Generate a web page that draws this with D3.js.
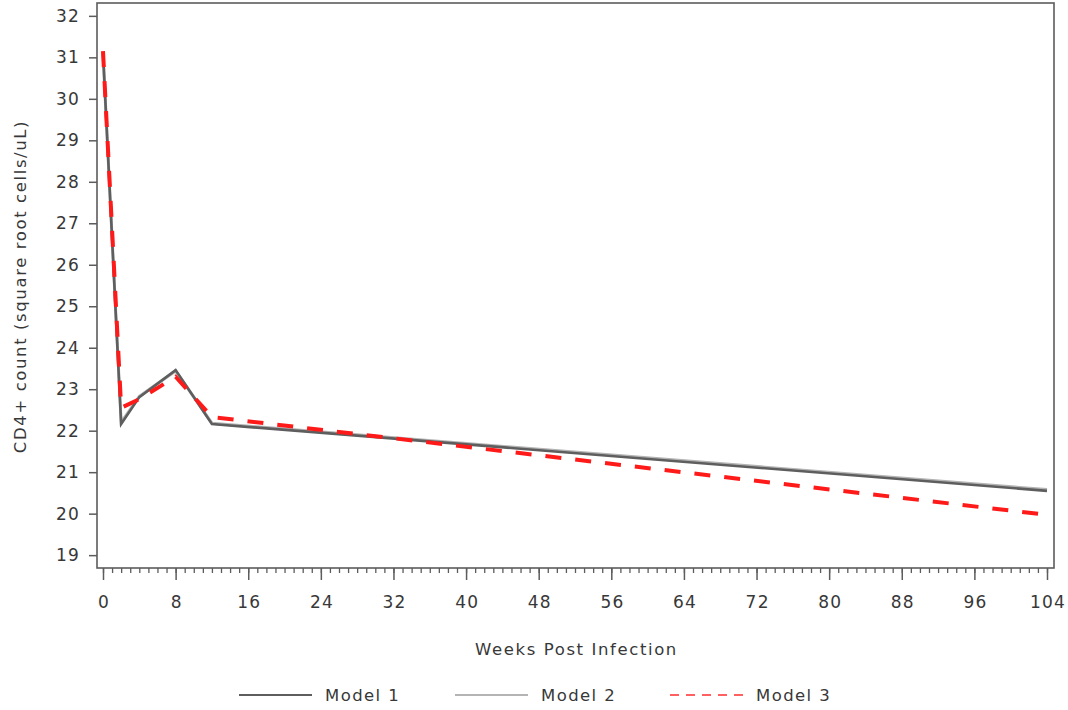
<!DOCTYPE html>
<html>
<head>
<meta charset="utf-8">
<script src="https://cdn.jsdelivr.net/npm/d3@7"></script>
<style>
  html, body { margin: 0; padding: 0; background: #fff; }
  svg text { font-family: "DejaVu Sans", sans-serif; fill: #383838; }
</style>
</head>
<body>
<svg id="chart" width="1068" height="710"></svg>
<script>
// Weeks at which the fitted curves change slope
const weeks = [0, 2, 4, 8, 12, 104];
// Fitted CD4+ (square root cells/uL) for each model
const model1 = [31.12, 22.16, 22.81, 23.46, 22.16, 20.55];
const model2 = [31.10, 22.20, 22.83, 23.44, 22.18, 20.58];
const model3 = [31.15, 22.55, 22.76, 23.30, 22.33, 19.97];
const seriesNames = ["Model 1", "Model 2", "Model 3"];
const yTicks = d3.range(19, 33);
const xMajorTicks = d3.range(0, 105, 8);
const xMinorTicks = d3.range(0, 105, 1);

const svg = d3.select("#chart");

const frame = { left: 97, right: 1054, top: 3, bottom: 568 };
const x = d3.scaleLinear().domain([0, 104]).range([103, 1047]);
const y = d3.scaleLinear().domain([18.69, 32.31]).range([frame.bottom, frame.top]);

// Plot frame
svg.append("rect")
  .attr("x", frame.left).attr("y", frame.top)
  .attr("width", frame.right - frame.left)
  .attr("height", frame.bottom - frame.top)
  .attr("fill", "none").attr("stroke", "#5c5c5c").attr("stroke-width", 1.6);

// Y axis
const yAxis = d3.axisLeft(y).tickValues(yTicks).tickSize(8).tickPadding(9).tickFormat(d3.format("d"));
const gy = svg.append("g").attr("transform", `translate(${frame.left},0)`).call(yAxis);
gy.select(".domain").remove();
gy.selectAll(".tick line").attr("stroke", "#5c5c5c").attr("stroke-width", 1.5);
gy.selectAll(".tick text").attr("font-size", 17).attr("fill", "#383838")
  .attr("font-family", "DejaVu Sans, sans-serif").attr("letter-spacing", 1.2);

// X axis: minor ticks every week, labelled major ticks every 8 weeks
const gxMinor = svg.append("g").attr("transform", `translate(0,${frame.bottom})`)
  .call(d3.axisBottom(x).tickValues(xMinorTicks).tickSize(5).tickFormat(""));
gxMinor.select(".domain").remove();
gxMinor.selectAll(".tick line").attr("stroke", "#5c5c5c").attr("stroke-width", 1.3);

const gx = svg.append("g").attr("transform", `translate(0,${frame.bottom})`)
  .call(d3.axisBottom(x).tickValues(xMajorTicks).tickSize(12).tickPadding(16).tickFormat(d3.format("d")));
gx.select(".domain").remove();
gx.selectAll(".tick line").attr("stroke", "#5c5c5c").attr("stroke-width", 1.5);
gx.selectAll(".tick text").attr("font-size", 17).attr("fill", "#383838")
  .attr("font-family", "DejaVu Sans, sans-serif").attr("letter-spacing", 1.2)
  .attr("dx", 0.6);

// Axis titles
svg.append("text")
  .attr("x", (frame.left + frame.right) / 2 + 1).attr("y", 655)
  .attr("text-anchor", "middle").attr("font-size", 16.5).attr("letter-spacing", 1.6)
  .text("Weeks Post Infection");

svg.append("text")
  .attr("transform", `translate(26,${(frame.top + frame.bottom) / 2 + 1}) rotate(-90)`)
  .attr("text-anchor", "middle").attr("font-size", 16.5).attr("letter-spacing", 1.6)
  .text("CD4+ count (square root cells/uL)");

// Curves
const line = d3.line().x(d => x(d[0])).y(d => y(d[1]));
const styles = [
  { values: model2, color: "#b4b4b4", width: 3, dash: null },
  { values: model1, color: "#5e5e5e", width: 2.6, dash: null },
  { values: model3, color: "#ff1a1a", width: 4, dash: "16,14" }
];
styles.forEach(s => {
  svg.append("path")
    .datum(weeks.map((w, i) => [w, s.values[i]]))
    .attr("d", line)
    .attr("fill", "none")
    .attr("stroke", s.color)
    .attr("stroke-width", s.width)
    .attr("stroke-linejoin", "miter")
    .attr("stroke-dasharray", s.dash);
});

// Legend
const legendItems = [
  { name: seriesNames[0], color: "#5e5e5e", dash: null, x: 239 },
  { name: seriesNames[1], color: "#b4b4b4", dash: null, x: 455 },
  { name: seriesNames[2], color: "#ff6060", dash: "9,7", x: 670 }
];
const lg = svg.append("g");
legendItems.forEach(it => {
  lg.append("line")
    .attr("x1", it.x).attr("x2", it.x + 73)
    .attr("y1", 695).attr("y2", 695)
    .attr("stroke", it.color).attr("stroke-width", 2.2)
    .attr("stroke-dasharray", it.dash);
  lg.append("text")
    .attr("x", it.x + 86).attr("y", 701)
    .attr("font-size", 16.5).attr("letter-spacing", 1.4)
    .text(it.name);
});
</script>
</body>
</html>
